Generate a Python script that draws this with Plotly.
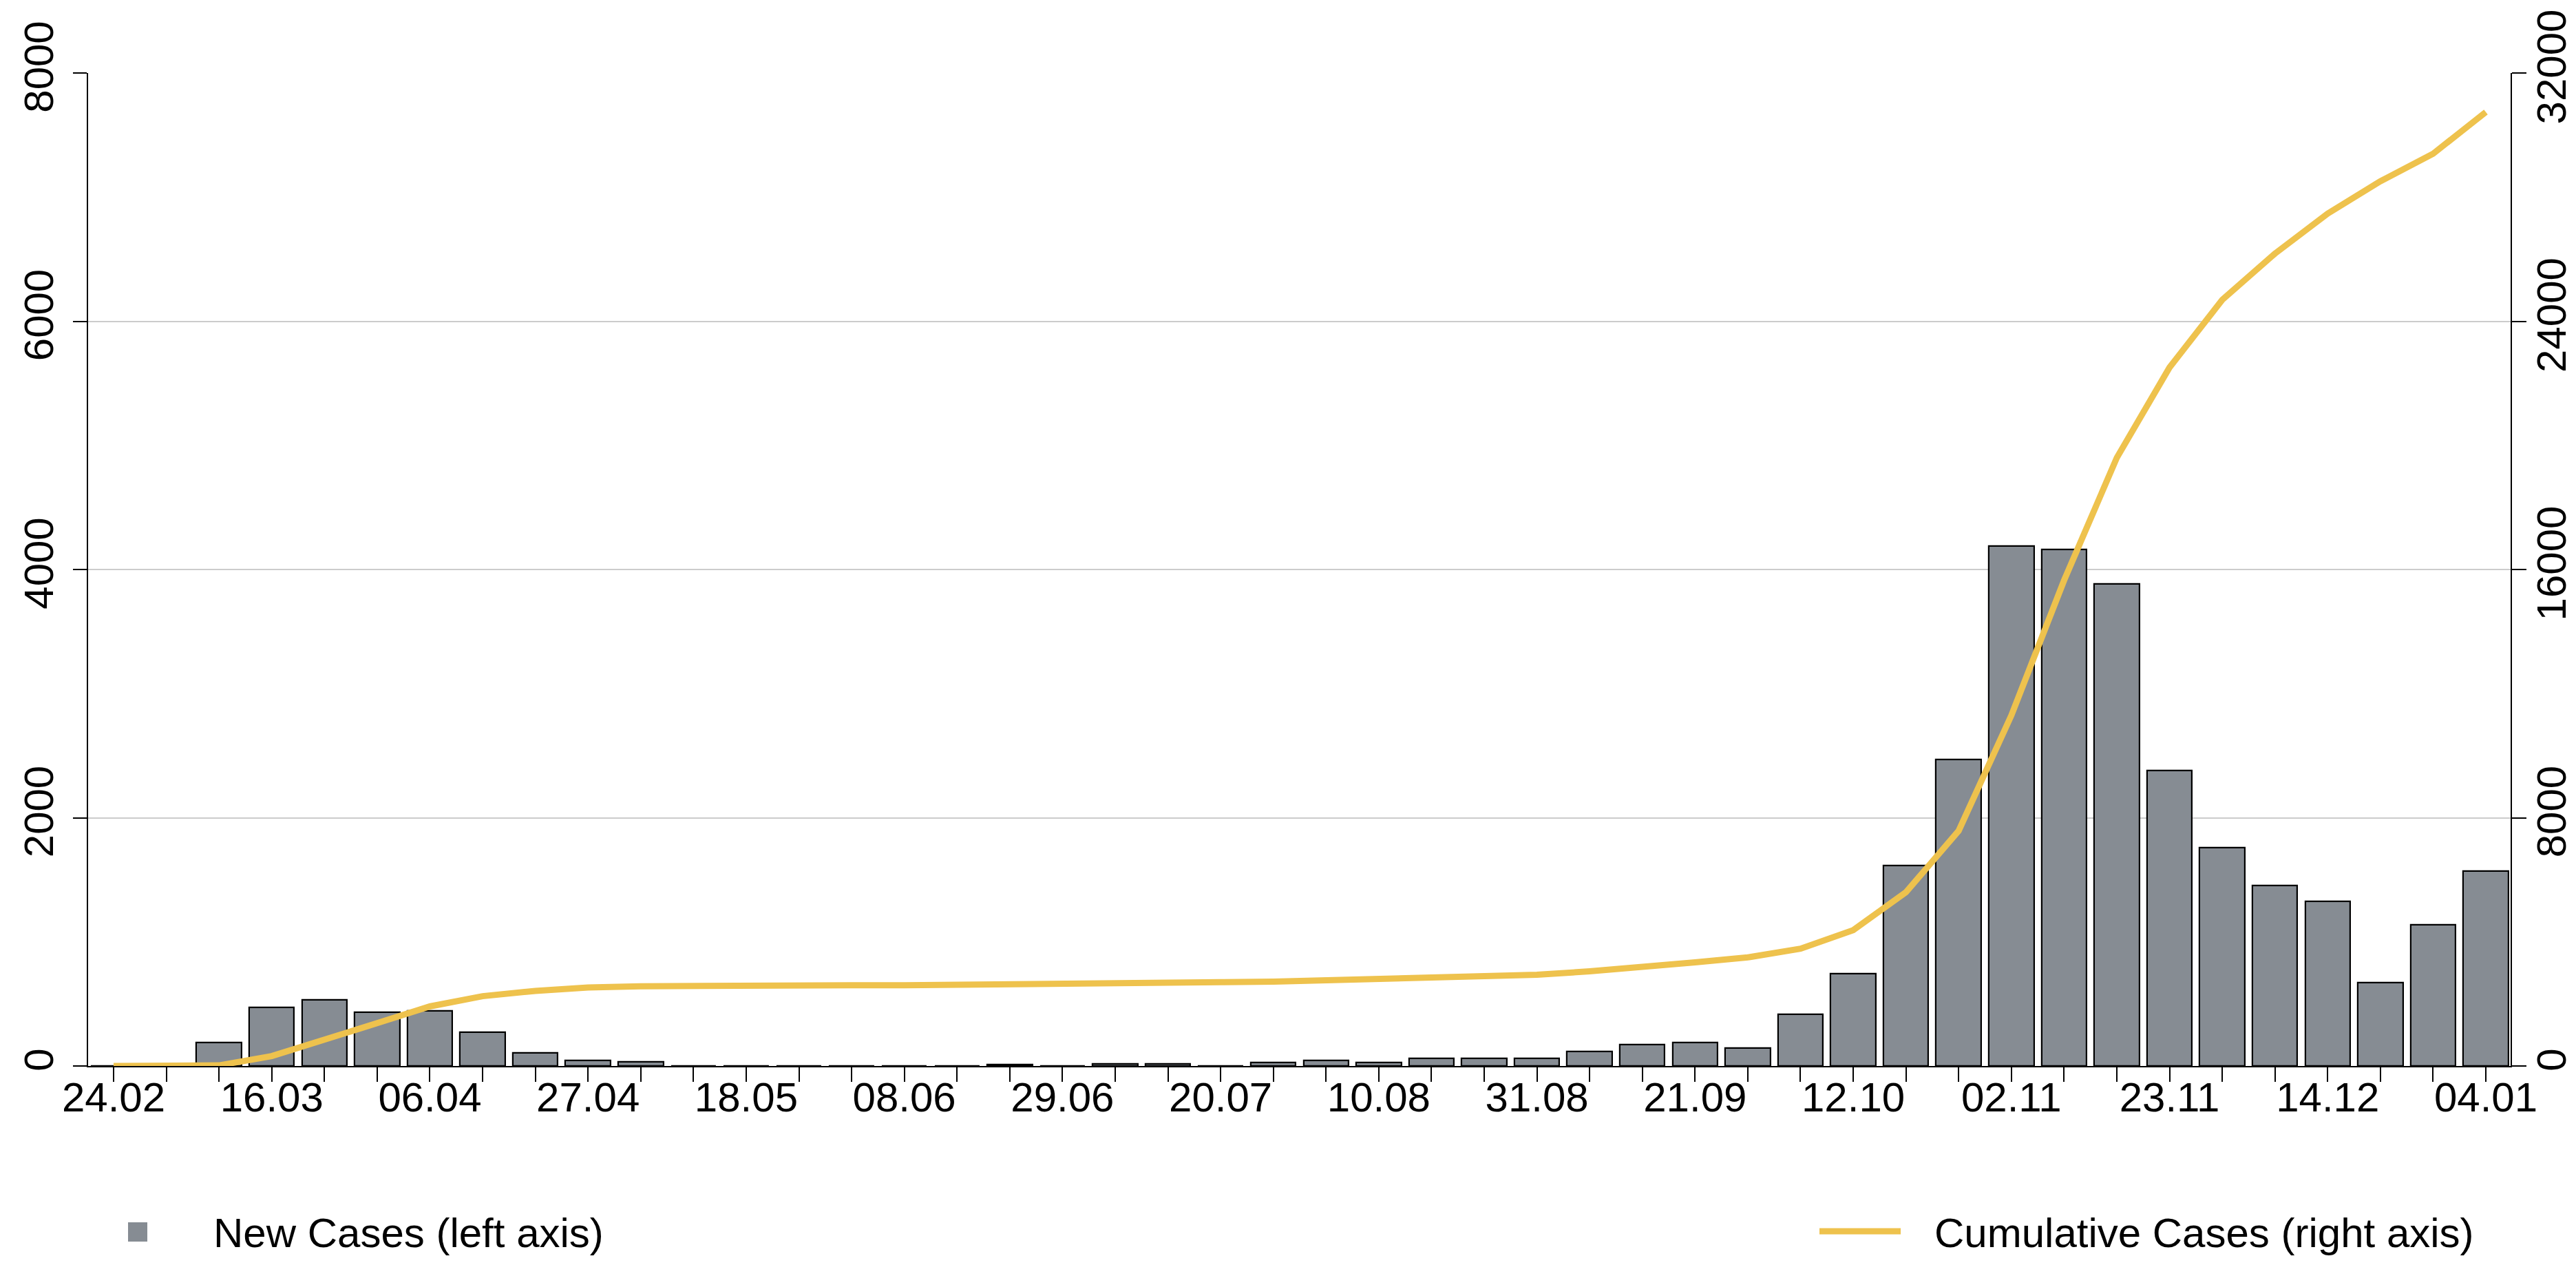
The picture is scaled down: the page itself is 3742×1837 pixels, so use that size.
import plotly.graph_objects as go

# ---- data ----
weeks = ["24.02", "02.03", "09.03", "16.03", "23.03", "30.03", "06.04", "13.04",
         "20.04", "27.04", "04.05", "11.05", "18.05", "25.05", "01.06", "08.06",
         "15.06", "22.06", "29.06", "06.07", "13.07", "20.07", "27.07", "03.08",
         "10.08", "17.08", "24.08", "31.08", "07.09", "14.09", "21.09", "28.09",
         "05.10", "12.10", "19.10", "26.10", "02.11", "09.11", "16.11", "23.11",
         "30.11", "07.12", "14.12", "21.12", "28.12", "04.01"]

new_cases = [0, 0, 187, 473, 531, 431, 446, 272,
             104, 46, 31, 0, 0, 0, 0, 0,
             0, 12, 0, 15, 15, 0, 30, 44,
             30, 59, 59, 59, 116, 172, 187, 144,
             416, 743, 1613, 2467, 4191, 4162, 3883, 2381,
             1756, 1454, 1327, 670, 1140, 1568]

cumulative_cases = [0, 0, 20, 320, 830, 1380, 1920, 2250,
                    2420, 2530, 2570, 2590, 2590, 2595, 2600, 2600,
                    2610, 2640, 2645, 2650, 2660, 2700, 2720, 2760,
                    2790, 2830, 2890, 2940, 3050, 3180, 3340, 3500,
                    3780, 4380, 5600, 7580, 11300, 15650, 19600, 22510,
                    24690, 26180, 27470, 28510, 29400, 30740]

label_every = 3
left_ticks = [0, 2000, 4000, 6000, 8000]
right_ticks = [0, 8000, 16000, 24000, 32000]

legend_bar = "New Cases (left axis)"
legend_line = "Cumulative Cases (right axis)"

# ---- style ----
W_PX, H_PX = 3742, 1837
ML, MR, MT, MB = 120, 103, 98, 297
BAR_COLOR = "#868c93"
LINE_COLOR = "#eec24d"
GRID_COLOR = "#cccccc"
FONT = "Liberation Sans, Arial, sans-serif"
FS = 60

x_idx = list(range(len(weeks)))
ticktext = [w if i % label_every == 0 else "" for i, w in enumerate(weeks)]

fig = go.Figure()
fig.add_trace(go.Bar(
    x=x_idx, y=new_cases, name=legend_bar, width=0.855,
    marker=dict(color=BAR_COLOR, line=dict(color="black", width=2.2)),
    yaxis="y", showlegend=False,
))
fig.add_trace(go.Scatter(
    x=x_idx, y=cumulative_cases, name=legend_line, mode="lines",
    line=dict(color=LINE_COLOR, width=9),
    yaxis="y2", showlegend=False,
))

axis_common = dict(
    showline=True, linecolor="black", linewidth=2,
    ticks="outside", tickcolor="black", tickwidth=2,
    zeroline=False, automargin=False,
    tickfont=dict(family=FONT, size=FS, color="black"),
)

fig.update_layout(
    width=W_PX, height=H_PX,
    margin=dict(l=ML, r=MR, t=MT, b=MB, pad=0, autoexpand=False),
    paper_bgcolor="white", plot_bgcolor="white",
    font=dict(family=FONT, size=FS, color="black"),
    bargap=0,
    xaxis=dict(range=[-0.483, 45.47], tickmode="array", tickvals=x_idx,
               ticktext=ticktext, tickangle=0, ticklen=21, showgrid=False,
               ticklabelstandoff=-29, **axis_common),
    yaxis=dict(range=[0, 8000], tickmode="array", tickvals=left_ticks,
               ticktext=[str(v) for v in left_ticks], tickangle=-90, ticklen=20,
               showgrid=True, gridcolor=GRID_COLOR, gridwidth=2,
               ticklabelstandoff=5, **axis_common),
    yaxis2=dict(range=[0, 32000], tickmode="array", tickvals=right_ticks,
                ticktext=[str(v) for v in right_ticks], tickangle=-90, ticklen=21,
                overlaying="y", side="right", showgrid=False,
                ticklabelstandoff=-15, **axis_common),
)

# ---- manual legend (paper coordinates derived from pixel layout) ----
PW = W_PX - ML - MR
PH = H_PX - MT - MB


def px(X):
    return (X - ML) / PW


def py(Y):
    return (H_PX - MB - Y) / PH


fig.add_shape(type="rect", xref="paper", yref="paper",
              x0=px(178), x1=px(206), y0=py(1795), y1=py(1767),
              fillcolor=BAR_COLOR, line=dict(width=0))
fig.add_shape(type="line", xref="paper", yref="paper",
              x0=px(2635), x1=px(2753), y0=py(1780), y1=py(1780),
              line=dict(color=LINE_COLOR, width=9))
fig.add_annotation(text=legend_bar, xref="paper", yref="paper",
                   x=px(300), y=py(1782), xanchor="left", yanchor="middle",
                   showarrow=False, font=dict(family=FONT, size=FS, color="black"))
fig.add_annotation(text=legend_line, xref="paper", yref="paper",
                   x=px(2800), y=py(1782), xanchor="left", yanchor="middle",
                   showarrow=False, font=dict(family=FONT, size=FS, color="black"))

fig.write_html("out.html")
